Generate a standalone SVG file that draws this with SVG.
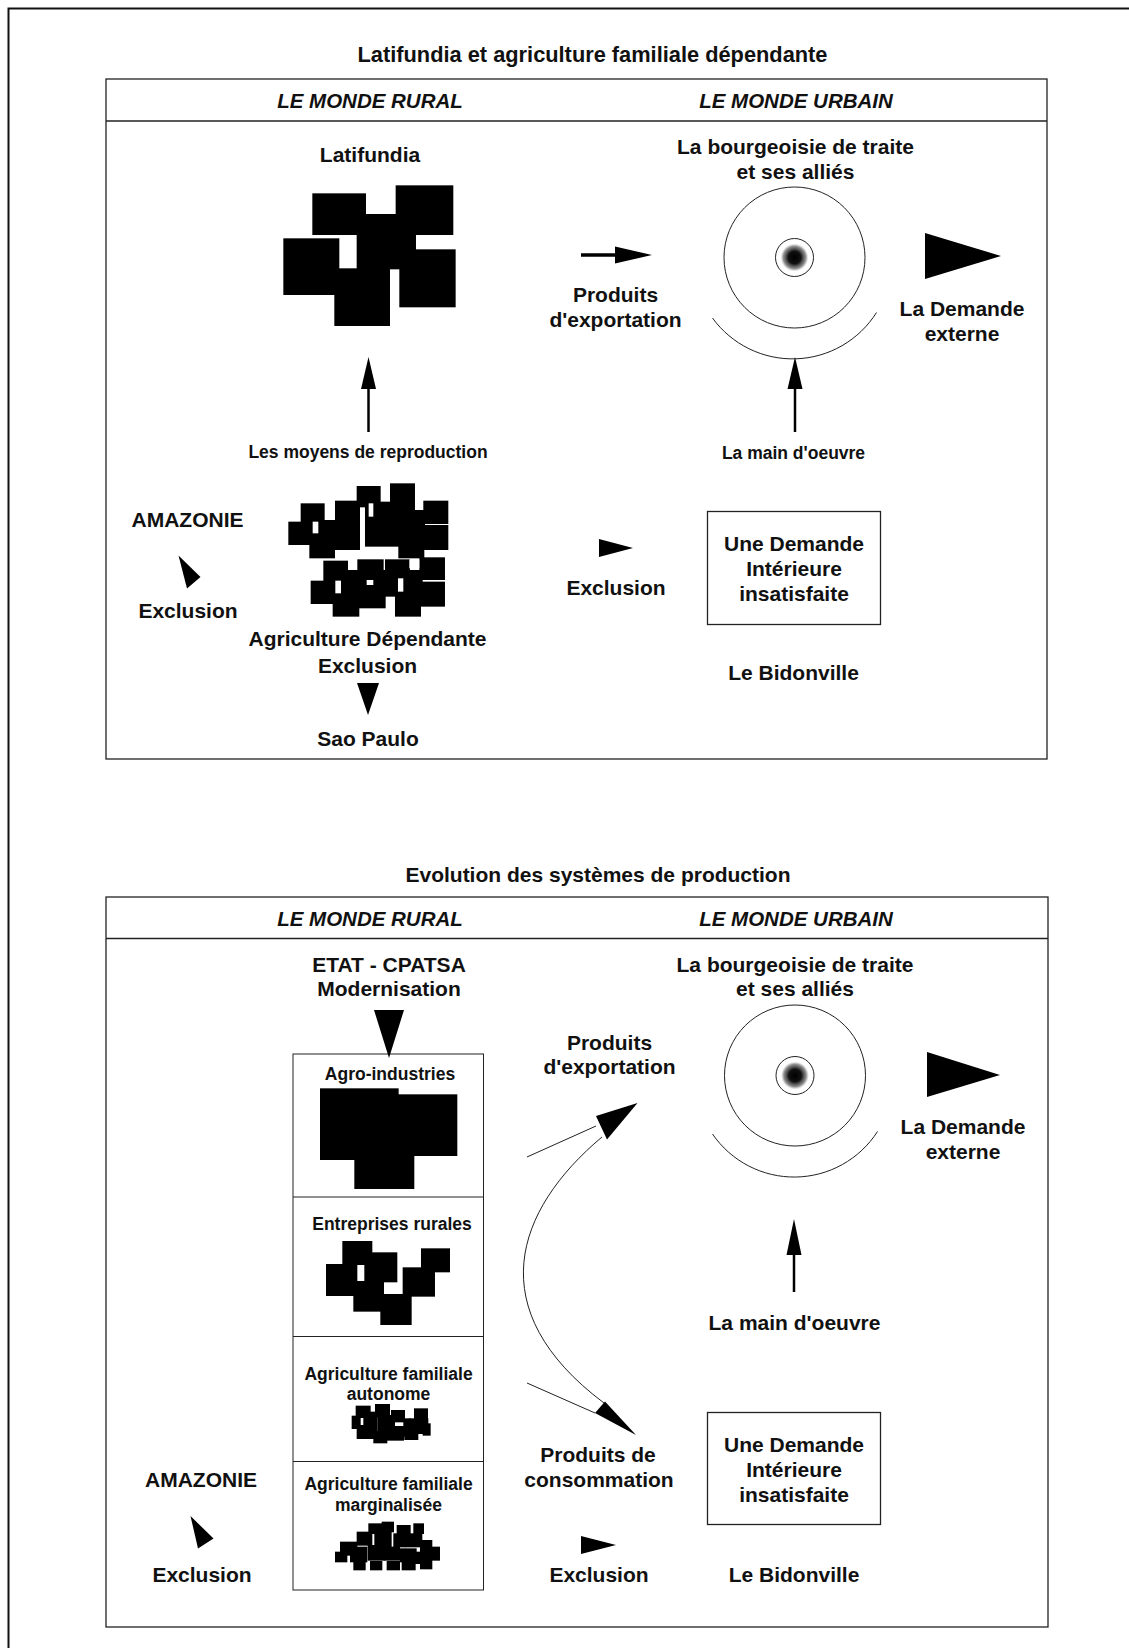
<svg xmlns="http://www.w3.org/2000/svg" width="1129" height="1648" viewBox="0 0 1129 1648">
<style>
text{font-family:"Liberation Sans",Arial,sans-serif;font-weight:bold;fill:#111;text-anchor:middle}
.t{font-size:21.8px}
.t2{font-size:21px}
.h{font-size:20.5px;font-style:italic}
.m{font-size:21px}
.s{font-size:17.5px}
.frame{fill:none;stroke:#222;stroke-width:1.3}
.thin{fill:none;stroke:#222;stroke-width:1}
.blob rect{fill:#000}
.blob rect.w{fill:#fff}
.head{fill:#000}
</style>
<defs>
<radialGradient id="core">
<stop offset="0" stop-color="#000"/>
<stop offset="0.45" stop-color="#111"/>
<stop offset="0.8" stop-color="#444" stop-opacity="0.6"/>
<stop offset="1" stop-color="#888" stop-opacity="0"/>
</radialGradient>
</defs>
<rect width="1129" height="1648" fill="#fff"/>
<path d="M1129,8.5 H8.5 V1648" fill="none" stroke="#111" stroke-width="2"/>

<!-- ===== Top panel ===== -->
<g id="panel1">
<text class="t" x="592.5" y="62">Latifundia et agriculture familiale dépendante</text>
<rect class="frame" x="106" y="79" width="941" height="680"/>
<line class="frame" x1="106" y1="121" x2="1047" y2="121"/>
<text class="h" x="370" y="108">LE MONDE RURAL</text>
<text class="h" x="796" y="108">LE MONDE URBAIN</text>
</g>

<g id="latifundia">
<text class="m" x="370" y="162">Latifundia</text>
<g class="blob" transform="translate(260,180) scale(0.3333)">
<rect x="157" y="40" width="161" height="125"/>
<rect x="407" y="16" width="173" height="149"/>
<rect x="290" y="102" width="178" height="166"/>
<rect x="70" y="175" width="168" height="170"/>
<rect x="418" y="208" width="169" height="174"/>
<rect x="223" y="265" width="167" height="173"/>
</g>
</g>

<g id="bourgeoisie1">
<text class="m" x="795.5" y="154">La bourgeoisie de traite</text>
<text class="m" x="795.5" y="179">et ses alliés</text>
<circle class="thin" cx="794.5" cy="257.5" r="70.5"/>
<circle class="thin" cx="794.5" cy="257.5" r="19"/>
<circle cx="794.5" cy="257.5" r="14" fill="url(#core)"/>
<path class="thin" d="M712.5,318 A99,99 0 0 0 876.5,312.5"/>
</g>

<g id="exportation1">
<text class="m" x="615.5" y="302">Produits</text>
<text class="m" x="615.5" y="327">d'exportation</text>
</g>

<g id="demande-externe1">
<text class="m" x="962" y="316">La Demande</text>
<text class="m" x="962" y="340.5">externe</text>
</g>

<g id="moyens">
<text class="s" x="368" y="458">Les moyens de reproduction</text>
</g>
<g id="main-oeuvre1">
<text class="s" x="793.5" y="459">La main d'oeuvre</text>
</g>

<g id="amazonie1">
<text class="m" x="187.5" y="526.5">AMAZONIE</text>
<text class="m" x="188" y="618">Exclusion</text>
</g>

<g id="agri-dependante">
<g class="blob" transform="translate(270,470) scale(0.3333)">
<rect x="260" y="48" width="72" height="64"/>
<rect x="360" y="40" width="75" height="68"/>
<rect x="92" y="100" width="72" height="70"/>
<rect x="195" y="92" width="75" height="72"/>
<rect x="460" y="92" width="75" height="70"/>
<rect x="55" y="155" width="74" height="70"/>
<rect x="118" y="150" width="77" height="115"/>
<rect x="190" y="155" width="80" height="85"/>
<rect x="285" y="95" width="150" height="135"/>
<rect x="385" y="150" width="78" height="115"/>
<rect x="430" y="120" width="35" height="52"/>
<rect x="458" y="165" width="77" height="75"/>
<rect class="w" x="128" y="155" width="17" height="35"/>
<rect class="w" x="296" y="100" width="14" height="40"/>
<rect x="160" y="272" width="74" height="64"/>
<rect x="262" y="268" width="79" height="66"/>
<rect x="345" y="268" width="75" height="62"/>
<rect x="448" y="262" width="77" height="68"/>
<rect x="122" y="332" width="72" height="70"/>
<rect x="188" y="300" width="80" height="140"/>
<rect x="262" y="300" width="85" height="115"/>
<rect x="340" y="300" width="118" height="80"/>
<rect x="375" y="335" width="78" height="105"/>
<rect x="450" y="335" width="75" height="75"/>
<rect class="w" x="196" y="332" width="17" height="38"/>
<rect class="w" x="290" y="330" width="20" height="15"/>
<rect class="w" x="384" y="325" width="16" height="40"/>
<rect class="w" x="418" y="268" width="30" height="27"/>
</g>
<text class="m" x="367.5" y="645.5">Agriculture Dépendante</text>
<text class="m" x="367.5" y="672.5">Exclusion</text>
</g>

<g id="saopaulo">
<text class="m" x="368" y="745.5">Sao Paulo</text>
</g>

<g id="exclusion-mid1">
<text class="m" x="616" y="594.5">Exclusion</text>
</g>

<g id="demande-int1">
<rect class="frame" x="707.5" y="511.5" width="173" height="113"/>
<text class="m" x="794" y="551">Une Demande</text>
<text class="m" x="794" y="575.5">Intérieure</text>
<text class="m" x="794" y="600.5">insatisfaite</text>
</g>

<g id="bidonville1">
<text class="m" x="793.5" y="679.5">Le Bidonville</text>
</g>

<!-- ===== Bottom panel ===== -->
<g id="panel2">
<text class="t2" x="598" y="882">Evolution des systèmes de production</text>
<rect class="frame" x="106" y="897" width="942" height="730"/>
<line class="frame" x1="106" y1="938.5" x2="1048" y2="938.5"/>
<text class="h" x="370" y="925.5">LE MONDE RURAL</text>
<text class="h" x="796" y="925.5">LE MONDE URBAIN</text>
</g>

<g id="etat">
<text class="m" x="389" y="971.5">ETAT - CPATSA</text>
<text class="m" x="389" y="996">Modernisation</text>
</g>

<g id="bourgeoisie2">
<text class="m" x="795" y="971.5">La bourgeoisie de traite</text>
<text class="m" x="795" y="995.5">et ses alliés</text>
<circle class="thin" cx="795" cy="1075.5" r="70.5"/>
<circle class="thin" cx="795" cy="1075.5" r="19"/>
<circle cx="795" cy="1075.5" r="14" fill="url(#core)"/>
<path class="thin" d="M712.5,1134 A99,99 0 0 0 877.5,1131.5"/>
</g>

<g id="exportation2">
<text class="m" x="609.5" y="1049.5">Produits</text>
<text class="m" x="609.5" y="1074">d'exportation</text>
</g>

<g id="demande-externe2">
<text class="m" x="963" y="1133.5">La Demande</text>
<text class="m" x="963" y="1158.5">externe</text>
</g>

<g id="column">
<rect class="thin" x="293" y="1054" width="190.5" height="536"/>
<line class="thin" x1="293" y1="1197" x2="483.5" y2="1197"/>
<line class="thin" x1="293" y1="1336.5" x2="483.5" y2="1336.5"/>
<line class="thin" x1="293" y1="1461.5" x2="483.5" y2="1461.5"/>
</g>

<g id="agro">
<text class="s" x="390" y="1079.5">Agro-industries</text>
<g class="blob" transform="translate(290,1075) scale(0.3333)">
<rect x="90" y="40" width="236" height="215"/>
<rect x="316" y="58" width="186" height="185"/>
<rect x="193" y="240" width="180" height="102"/>
</g>
</g>

<g id="entreprises">
<text class="s" x="392" y="1229.5">Entreprises rurales</text>
<g class="blob" transform="translate(310,1230) scale(0.3333)">
<rect x="97" y="33" width="90" height="72"/>
<rect x="183" y="67" width="79" height="90"/>
<rect x="48" y="102" width="94" height="96"/>
<rect x="163" y="100" width="59" height="97"/>
<rect x="130" y="153" width="92" height="92"/>
<rect x="278" y="112" width="97" height="88"/>
<rect x="333" y="55" width="87" height="72"/>
<rect x="211" y="192" width="94" height="93"/>
</g>
</g>

<g id="autonome">
<text class="s" x="388.5" y="1379.5">Agriculture familiale</text>
<text class="s" x="388.5" y="1400">autonome</text>
<g class="blob" transform="translate(320,1395) scale(0.3333)">
<rect x="107" y="32" width="45" height="37"/>
<rect x="165" y="27" width="45" height="40"/>
<rect x="213" y="45" width="42" height="37"/>
<rect x="282" y="40" width="42" height="37"/>
<rect x="95" y="62" width="27" height="40"/>
<rect x="130" y="50" width="42" height="77"/>
<rect x="172" y="60" width="53" height="57"/>
<rect x="223" y="93" width="42" height="32"/>
<rect x="250" y="70" width="22" height="42"/>
<rect x="268" y="70" width="57" height="47"/>
<rect x="308" y="85" width="24" height="37"/>
<rect x="110" y="90" width="57" height="42"/>
<rect x="160" y="108" width="42" height="37"/>
<rect x="200" y="100" width="52" height="37"/>
<rect x="253" y="108" width="42" height="27"/>
</g>
</g>

<g id="marginalisee">
<text class="s" x="388.5" y="1489.5">Agriculture familiale</text>
<text class="s" x="388.5" y="1511">marginalisée</text>
<g class="blob" transform="translate(320,1515) scale(0.3333)">
<rect x="145" y="25" width="42" height="32"/>
<rect x="185" y="20" width="37" height="32"/>
<rect x="230" y="30" width="42" height="32"/>
<rect x="280" y="25" width="32" height="32"/>
<rect x="110" y="50" width="47" height="42"/>
<rect x="163" y="50" width="52" height="47"/>
<rect x="220" y="55" width="37" height="42"/>
<rect x="255" y="55" width="52" height="42"/>
<rect x="300" y="75" width="37" height="37"/>
<rect x="60" y="80" width="52" height="42"/>
<rect x="45" y="110" width="37" height="32"/>
<rect x="90" y="95" width="52" height="47"/>
<rect x="143" y="90" width="52" height="47"/>
<rect x="193" y="95" width="47" height="42"/>
<rect x="240" y="100" width="50" height="42"/>
<rect x="285" y="110" width="37" height="37"/>
<rect x="320" y="95" width="40" height="42"/>
<rect x="100" y="138" width="37" height="28"/>
<rect x="150" y="138" width="37" height="28"/>
<rect x="200" y="138" width="40" height="28"/>
<rect x="245" y="138" width="42" height="28"/>
<rect x="300" y="135" width="37" height="28"/>
</g>
</g>

<g id="main-oeuvre2">
<text class="m" x="794.5" y="1330">La main d'oeuvre</text>
</g>

<g id="amazonie2">
<text class="m" x="201" y="1486.5">AMAZONIE</text>
<text class="m" x="202" y="1581.5">Exclusion</text>
</g>

<g id="consommation">
<text class="m" x="598" y="1461.5">Produits de</text>
<text class="m" x="599" y="1486.5">consommation</text>
</g>

<g id="demande-int2">
<rect class="frame" x="707.5" y="1412.5" width="173" height="112"/>
<text class="m" x="794" y="1451.5">Une Demande</text>
<text class="m" x="794" y="1476.5">Intérieure</text>
<text class="m" x="794" y="1502">insatisfaite</text>
</g>

<g id="exclusion-mid2">
<text class="m" x="599" y="1581.5">Exclusion</text>
</g>

<g id="bidonville2">
<text class="m" x="794" y="1581.5">Le Bidonville</text>
</g>

<!-- ===== Connectors ===== -->
<g id="connectors">
<!-- top panel -->
<line x1="581" y1="255" x2="617" y2="255" stroke="#000" stroke-width="3.5"/>
<polygon class="head" points="615,246.5 652,255 615,263.5"/>
<polygon class="head" points="925,233 1001,256 925,279"/>
<line x1="368.5" y1="385" x2="368.5" y2="432" stroke="#000" stroke-width="2.5"/>
<polygon class="head" points="368.5,357 376,389 361,389"/>
<line x1="795" y1="385" x2="795" y2="432" stroke="#000" stroke-width="2.5"/>
<polygon class="head" points="795,357 802.5,389 787.5,389"/>
<polygon class="head" points="178.5,555.5 200.5,577 187,588.5"/>
<polygon class="head" points="599,539 633,548 599,557"/>
<polygon class="head" points="357,683 379,683 368,715"/>
<!-- bottom panel -->
<polygon class="head" points="374,1010 404,1010 389,1058"/>
<polygon class="head" points="927,1052 1000,1075 927,1097"/>
<line x1="794" y1="1250" x2="794" y2="1292" stroke="#000" stroke-width="2.5"/>
<polygon class="head" points="794,1219 801.5,1255 786.5,1255"/>
<line class="thin" x1="527" y1="1157" x2="596" y2="1126"/>
<polygon class="head" points="596,1116 637.5,1103 607,1139.5"/>
<path class="thin" d="M602,1137 C515,1210 480,1310 604,1403"/>
<line class="thin" x1="527" y1="1383" x2="595" y2="1413"/>
<polygon class="head" points="595,1413 605,1401.5 636,1435"/>
<polygon class="head" points="190.5,1516 213.5,1538.5 198,1548.5"/>
<polygon class="head" points="581,1536 616,1545 581,1554"/>
</g>
</svg>
